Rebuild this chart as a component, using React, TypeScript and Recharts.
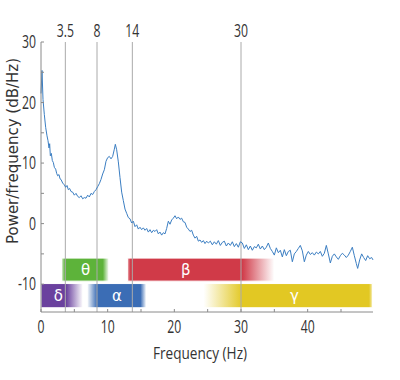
import React from "react";
import { LineChart, Line, XAxis, YAxis, ReferenceLine, ReferenceArea, ReferenceDot } from "recharts";

// EEG power spectrum
const freqs = [
    0, 0.15, 0.3, 0.5, 0.7, 0.9, 1.05, 1.2, 1.3, 1.4, 1.55, 1.7, 1.85, 2.0, 2.2, 2.35, 2.5, 2.7, 2.85, 3.0,
    3.25, 3.5, 3.7, 3.9, 4.1, 4.3, 4.5, 4.75, 5.0, 5.25, 5.5, 5.75, 6.0, 6.25, 6.5, 6.75, 7.0, 7.25, 7.5, 7.75,
    8.0, 8.25, 8.5, 8.75, 9.0, 9.25, 9.5, 9.75, 10.0, 10.25, 10.5, 10.75, 11.0, 11.15, 11.35, 11.6, 11.85, 12.1, 12.35, 12.6,
    12.85, 13.1, 13.35, 13.6, 13.85, 14.1, 14.35, 14.6, 14.85, 15.1, 15.35, 15.6, 15.85, 16.1, 16.35, 16.6, 16.85, 17.1, 17.35, 17.6,
    17.85, 18.1, 18.35, 18.6, 18.85, 19.1, 19.35, 19.6, 19.85, 20.1, 20.35, 20.6, 20.85, 21.1, 21.35, 21.6, 21.85, 22.1, 22.35, 22.6,
    22.85, 23.1, 23.35, 23.6, 23.85, 24.1, 24.35, 24.6, 24.85, 25.1, 25.4, 25.7, 26.0, 26.3, 26.6, 26.9, 27.2, 27.5, 27.8, 28.1,
    28.4, 28.7, 29.0, 29.3, 29.6, 29.9, 30.2, 30.5, 30.8, 31.1, 31.4, 31.7, 32.0, 32.3, 32.6, 32.9, 33.2, 33.5, 33.8, 34.1,
    34.4, 34.7, 35.0, 35.3, 35.6, 35.9, 36.2, 36.5, 36.8, 37.1, 37.4, 37.7, 38.0, 38.3, 38.6, 38.9, 39.2, 39.5, 39.8, 40.1,
    40.4, 40.7, 41.0, 41.3, 41.6, 41.9, 42.2, 42.5, 42.8, 43.1, 43.4, 43.7, 44.0, 44.3, 44.6, 44.9, 45.2, 45.5, 45.8, 46.1,
    46.4, 46.7, 47.0, 47.3, 47.5, 47.8, 48.1, 48.4, 48.7, 49.0, 49.3, 49.6, 49.8,
];
const power = [
    21.5, 25.3, 20.5, 18, 15.9, 14.5, 13.7, 12.5, 13.2, 11.2, 11.6, 10.4, 10.1, 9.3, 9.0, 8.3, 7.9, 8.1, 7.4, 7.3,
    6.7, 6.4, 6.0, 6.3, 5.6, 5.8, 5.3, 5.2, 4.7, 5.0, 4.5, 4.3, 4.6, 4.1, 4.3, 4.2, 4.7, 4.4, 5.0, 4.8,
    5.3, 5.6, 6.1, 6.6, 7.3, 8.2, 8.9, 10.3, 10.9, 11.1, 10.7, 11.1, 12.3, 13.1, 12.2, 10.2, 7.6, 5.2, 3.8, 2.4,
    1.7, 1.0, 0.8, 0.1, 0.4, -0.5, -0.2, -0.9, -0.6, -1.0, -0.7, -1.1, -0.8, -1.4, -1.0, -1.5, -1.1, -1.3, -1.0, -1.7,
    -1.4, -1.9, -1.5, -1.7, -0.8, 0.4, -0.1, 0.6, 0.9, 1.3, 0.8, 1.1, 0.7, 0.9, 0.3, 0.2, -0.6, -0.9, -1.3, -1.1,
    -1.9, -2.4, -2.1, -2.9, -2.7, -3.1, -2.8, -3.3, -2.9, -3.2, -2.9, -3.5, -3.0, -3.4, -2.8, -3.6, -3.1, -2.9, -3.7, -3.2,
    -3.6, -3.0, -3.8, -3.3, -3.9, -3.0, -3.2, -4.1, -3.5, -4.3, -3.7, -4.4, -3.8, -4.0, -3.4, -4.2, -3.7, -4.3, -3.9, -3.2,
    -4.1, -4.6, -5.2, -4.0, -4.8, -4.4, -5.5, -4.3, -5.3, -4.6, -4.4, -6.3, -5.0, -4.6, -4.1, -3.6, -4.5, -6.3, -5.2, -4.6,
    -5.1, -4.8, -5.2, -4.7, -5.0, -4.6, -5.4, -4.9, -3.6, -5.0, -6.5, -5.4, -5.0, -5.5, -5.9, -5.3, -4.9, -5.2, -5.6, -5.2,
    -4.6, -3.9, -5.3, -6.6, -7.4, -6.0, -5.0, -5.6, -6.1, -5.3, -5.8, -5.6, -6.0,
];

const xTicks = [0, 5, 10, 15, 20, 25, 30, 35, 40, 45];
const yTicks = [-10, -5, 0, 5, 10, 15, 20, 25, 30];

// band boundaries marked on top
const boundaryAt = [3.65, 8.4, 13.7, 30];
const boundaryLabels = ["3.5", "8", "14", "30"];

// frequency bands
const bandIds = ["theta", "beta", "delta", "alpha", "gamma"];
const bandSymbols = ["θ", "β", "δ", "α", "γ"];
const bandFrom = [3.1, 13.0, 0, 6.9, 24.4];
const bandTo = [10.2, 35.0, 6.3, 15.8, 49.7];
const bandTop = [-5.7, -5.7, -9.9, -9.9, -9.9];
const bandBottom = [-9.5, -9.5, -13.9, -13.9, -13.9];
const bandLabelAt = [6.7, 21.7, 2.6, 11.4, 38];

const bandStyle: Record<string, { color: string; stops: [number, number][] }> = {
    theta: { color: "#5db33a", stops: [[0, 0.3], [0.07, 1], [0.87, 1], [1, 0]] },
    beta: { color: "#d03a48", stops: [[0, 0.6], [0.02, 1], [0.78, 1], [1, 0]] },
    delta: { color: "#6a419e", stops: [[0, 1], [0.6, 1], [1, 0]] },
    alpha: { color: "#3b6db5", stops: [[0, 0], [0.17, 1], [0.9, 1], [1, 0]] },
    gamma: { color: "#e2c823", stops: [[0, 0], [0.23, 1], [0.98, 1], [1, 0.4]] },
};

const data = freqs.map((f, i) => ({ f, p: power[i] }));

// the figure uses a condensed face; squeeze Open Sans to get close
const NarrowText = ({ x, y, anchor, size, children }: any) => (
    <text
        transform={`translate(${x},${y}) scale(0.7,1)`}
        textAnchor={anchor}
        style={{ fontFamily: "'Open Sans', sans-serif", fontSize: size, fill: "#333" }}
    >
        {children}
    </text>
);

const XTick = ({ x, y, payload }: any) => (
    <NarrowText x={x} y={y + 12} anchor="middle" size={17.5}>
        {payload.value % 10 === 0 ? String(payload.value) : ""}
    </NarrowText>
);

const YTick = ({ x, y, payload }: any) => (
    <NarrowText x={x} y={y + 6} anchor="end" size={17.5}>
        {payload.value % 10 === 0 ? String(payload.value) : ""}
    </NarrowText>
);

export default function App() {
    return (
        <div style={{ width: 400, height: 380 }}>
            <style>{"body{margin:0}"}</style>
            <LineChart width={400} height={380} data={data} margin={{ top: 42, right: 27, bottom: 0, left: 0 }}>
                <defs>
                    {bandIds.map((id) => (
                        <linearGradient key={id} id={`grad-${id}`} x1="0" y1="0" x2="1" y2="0">
                            {bandStyle[id].stops.map(([o, op], k) => (
                                <stop key={k} offset={o} stopColor={bandStyle[id].color} stopOpacity={op} />
                            ))}
                        </linearGradient>
                    ))}
                </defs>
                <XAxis
                    dataKey="f"
                    type="number"
                    domain={[0, 49.8]}
                    ticks={xTicks}
                    tickSize={-3}
                    tickMargin={12}
                    stroke="#8a8a8a"
                    tick={<XTick />}
                    height={68}
                    interval={0}
                    label={{
                        content: ({ viewBox }: any) => (
                            <text
                                transform={`translate(${viewBox.x + viewBox.width / 2 - 7},${viewBox.y + 47}) scale(0.85,1)`}
                                textAnchor="middle"
                                style={{ fontFamily: "'Open Sans', sans-serif", fontSize: 16, fill: "#333" }}
                            >
                                Frequency (Hz)
                            </text>
                        ),
                    }}
                />
                <YAxis
                    type="number"
                    domain={[-14.6, 30]}
                    ticks={yTicks}
                    tickSize={-3}
                    tickMargin={8}
                    stroke="#8a8a8a"
                    tick={<YTick />}
                    width={41}
                    interval={0}
                    allowDataOverflow
                    label={{
                        content: ({ viewBox }: any) => (
                            <text
                                x={12.5}
                                y={viewBox.y + viewBox.height / 2 - 26}
                                transform={`rotate(-90 12.5 ${viewBox.y + viewBox.height / 2 - 26})`}
                                textAnchor="middle"
                                dominantBaseline="central"
                                style={{ fontFamily: "'DejaVu Sans', sans-serif", fontSize: 15, fill: "#333" }}
                            >
                                Power/frequency (dB/Hz)
                            </text>
                        ),
                    }}
                />
                {boundaryAt.map((x, i) => (
                    <ReferenceLine
                        key={`b${i}`}
                        x={x}
                        stroke="#aaaaaa"
                        strokeWidth={1}
                        label={{
                            content: ({ viewBox }: any) => (
                                <NarrowText x={viewBox.x} y={viewBox.y - 5} anchor="middle" size={17.5}>
                                    {boundaryLabels[i]}
                                </NarrowText>
                            ),
                        }}
                    />
                ))}
                {bandIds.map((id, i) => (
                    <ReferenceArea
                        key={id}
                        x1={bandFrom[i]}
                        x2={bandTo[i]}
                        y1={bandBottom[i]}
                        y2={bandTop[i]}
                        fill={`url(#grad-${id})`}
                        fillOpacity={1}
                        stroke="#ffffff"
                        strokeWidth={1}
                    />
                ))}
                {bandIds.map((id, i) => (
                    <ReferenceDot
                        key={`l${id}`}
                        x={bandLabelAt[i]}
                        y={(bandTop[i] + bandBottom[i]) / 2}
                        r={0}
                        fill="none"
                        stroke="none"
                        label={{ value: bandSymbols[i], position: "center", style: { fill: "#fff", fontSize: 15, fontFamily: "'DejaVu Sans', sans-serif" } }}
                    />
                ))}
                <Line
                    type="linear"
                    dataKey="p"
                    stroke="#3b7ec2"
                    strokeWidth={1}
                    dot={false}
                    isAnimationActive={false}
                />
            </LineChart>
        </div>
    );
}
